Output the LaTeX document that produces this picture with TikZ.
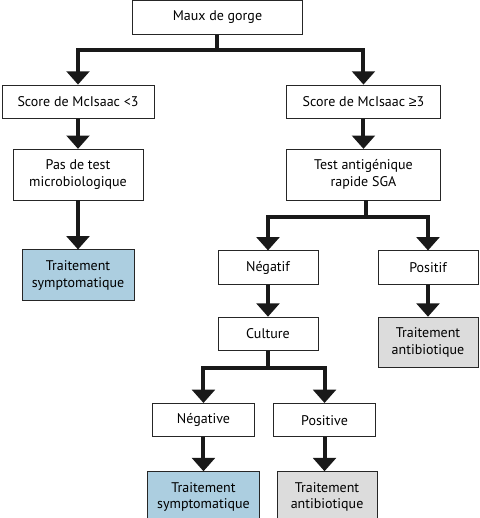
\documentclass[tikz,border=0pt]{standalone}
\usepackage{fontspec}
\setmainfont{PT Sans}
\newfontfamily\symfont{Liberation Sans}
\usepackage{xcolor}
\usetikzlibrary{positioning,arrows.meta}

\definecolor{symblue}{RGB}{172,206,224}
\definecolor{abgray}{RGB}{220,220,220}

\tikzset{
  box/.style={draw=black!85, line width=0.7pt, rectangle, align=center,
    font=\fontsize{10.5}{12.5}\selectfont, minimum height=25pt, inner sep=2pt},
  tallbox/.style={box, minimum height=38pt},
  conn/.style={line width=3pt, black!90},
  arr/.style={conn, -{Triangle[width=17pt,length=10pt]}}
}

\begin{document}
\begin{tikzpicture}
    \useasboundingbox (0,0) rectangle (359.25pt,-388.5pt);
    % top of the tree
    \node[box, minimum width=128pt] (maux) at (163.1pt,-13.1pt) {Maux de gorge};
    \node[box, minimum width=114pt, below=37.5pt of maux, xshift=-104.6pt] (score1) {Score de McIsaac <3};
    \node[box, minimum width=115pt, below=37.5pt of maux, xshift=109.5pt] (score2) {Score de McIsaac {\symfont ≥}3};
    % left branch
    \node[tallbox, minimum width=97.5pt, below=22.5pt of score1] (pastest) {Pas de test\\microbiologique};
    \node[tallbox, minimum width=84pt, fill=symblue, below=36.75pt of pastest] (symp1) {Traitement\\symptomatique};
    % right branch
    \node[tallbox, minimum width=115pt, below=22.5pt of score2] (testsga) {Test antigénique\\rapide SGA};
    \node[box, minimum width=75pt, below=37.5pt of testsga, xshift=-71.6pt] (negatif) {Négatif};
    \node[box, minimum width=75pt, below=37.5pt of testsga, xshift=48.4pt] (positif) {Positif};
    \node[box, minimum width=75pt, below=24pt of negatif] (culture) {Culture};
    \node[tallbox, minimum width=75pt, fill=abgray, below=24pt of positif] (antib1) {Traitement\\antibiotique};
    \node[box, minimum width=76pt, below=39pt of culture, xshift=-48.4pt] (negative) {Négative};
    \node[box, minimum width=76pt, below=39pt of culture, xshift=42.4pt] (positive) {Positive};
    \node[tallbox, minimum width=84pt, fill=symblue, below=25.5pt of negative] (symp2) {Traitement\\symptomatique};
    \node[tallbox, minimum width=75pt, fill=abgray, below=25.5pt of positive, xshift=1.9pt] (antib2) {Traitement\\antibiotique};

    % forks
    \coordinate[below=11.25pt of maux] (fork1);
    \coordinate[below=12.75pt of testsga, xshift=1.9pt] (fork2);
    \coordinate[below=12.75pt of culture] (fork3);

    \draw[conn] (maux) -- (fork1);
    \draw[arr] (fork1) -| (score1);
    \draw[arr] (fork1) -| (score2);
    \draw[arr] (score1) -- (pastest);
    \draw[arr] (pastest) -- (symp1);
    \draw[arr] (score2) -- (testsga);
    \draw[conn] (testsga.south -| fork2) -- (fork2);
    \draw[arr] (fork2) -| (negatif);
    \draw[arr] (fork2) -| (positif);
    \draw[arr] (negatif) -- (culture);
    \draw[arr] (positif) -- (antib1);
    \draw[conn] (culture) -- (fork3);
    \draw[arr] (fork3) -| (negative);
    \draw[arr] (fork3) -| (positive);
    \draw[arr] (negative) -- (symp2);
    \draw[arr] (positive.south) -- (positive.south |- antib2.north);
\end{tikzpicture}
\end{document}
